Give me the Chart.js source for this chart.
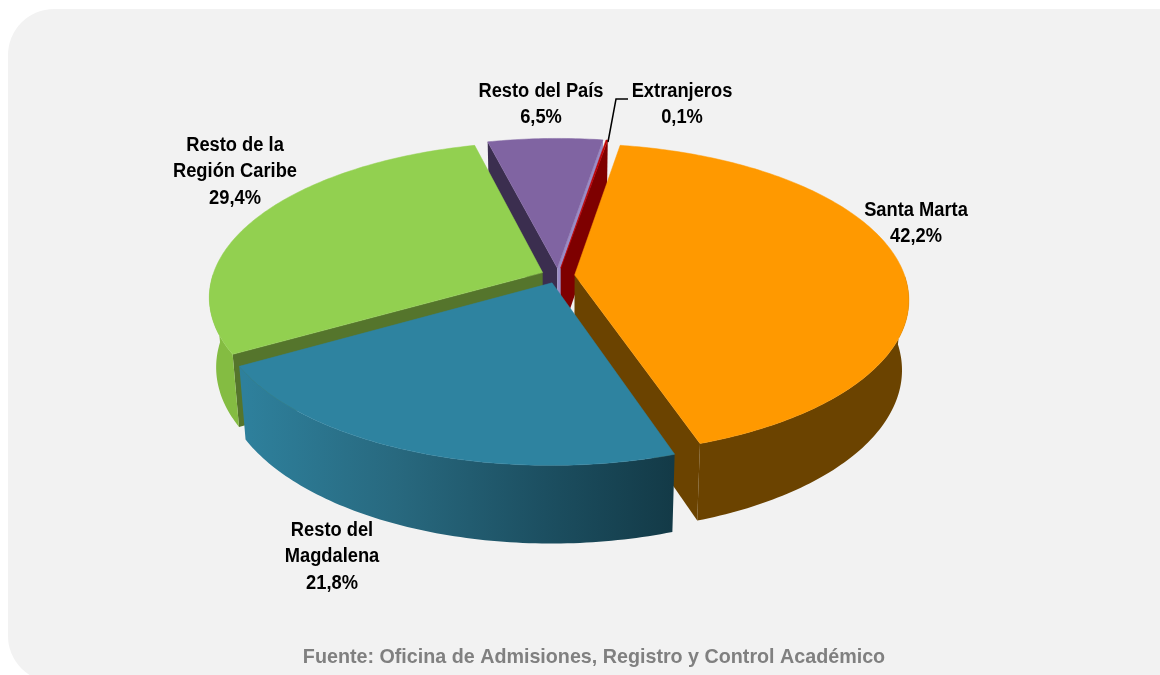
<!DOCTYPE html>
<html lang="es">
<head>
<meta charset="utf-8">
<style>html,body{margin:0;padding:0;background:#fff}canvas{display:block}</style>
<script src="https://cdn.jsdelivr.net/npm/chart.js@4"></script>
</head>
<body>
<canvas id="c" width="1160" height="675"></canvas>
<script>
const categories = ['Santa Marta', 'Resto del Magdalena', 'Resto de la Región Caribe', 'Resto del País', 'Extranjeros'];
const shares = [42.2, 21.8, 29.4, 6.5, 0.1];
const shareLabels = ['42,2%', '21,8%', '29,4%', '6,5%', '0,1%'];
const topColors = ['#FF9900', '#2E83A0', '#92D050', '#8064A2', '#C00000'];
const sourceText = 'Fuente: Oficina de Admisiones, Registro y Control Académico';

// painter's order: far slices first
const paintOrder = [3, 4, 2, 0, 1];
const wallColors = ['#6B4300', null, '#84BC42', '#3B2E4F', '#7E0000'];
const endFaceColors = ['#6B4300', '#2B7A96', '#55752C', '#9A8CC6', '#7E0000'];
const startFaceColors = ['#6B4300', '#2B7A96', '#55752C', '#3B2E4F', '#7E0000'];

// view of the pie
const TILT = 0.46, PERSP = 0.000469, DEPTH = 70, BASE_SCALE = 1.02;
const labelBoxes = [
  {lines: ['Santa Marta', shareLabels[0]], x: 916, y: 210},
  {lines: ['Resto del', 'Magdalena', shareLabels[1]], x: 332, y: 530},
  {lines: ['Resto de la', 'Región Caribe', shareLabels[2]], x: 235, y: 145},
  {lines: ['Resto del País', shareLabels[3]], x: 541, y: 91},
  {lines: ['Extranjeros', shareLabels[4]], x: 682, y: 91}
];

function project(cx, cy, X, Y, base) {
  const w = (1 - PERSP * Y) * (base ? BASE_SCALE : 1);
  return [cx + X / w, cy + (TILT * Y + (base ? DEPTH : 0)) / w];
}
function paintPoly(ctx, pts, fill, edge) {
  ctx.beginPath();
  pts.forEach((p, i) => i ? ctx.lineTo(p[0], p[1]) : ctx.moveTo(p[0], p[1]));
  ctx.closePath();
  ctx.fillStyle = fill;
  ctx.fill();
  if (edge) { ctx.strokeStyle = fill; ctx.lineWidth = edge; ctx.stroke(); }
}
function drawSlice(ctx, el, i) {
  const {x, y, startAngle, endAngle, outerRadius} = el.getProps(['x', 'y', 'startAngle', 'endAngle', 'outerRadius'], true);
  const offset = el.options.offset || 0;
  const mid = (startAngle + endAngle) / 2;
  const ox = Math.cos(mid) * offset, oy = Math.sin(mid) * offset;
  const n = Math.max(2, Math.ceil((endAngle - startAngle) * 60));
  const angles = [];
  for (let k = 0; k <= n; k++) angles.push(startAngle + (endAngle - startAngle) * k / n);
  const at = (t, b) => project(x, y, ox + Math.cos(t) * outerRadius, oy + Math.sin(t) * outerRadius, b);
  const tipTop = project(x, y, ox, oy, false), tipBase = project(x, y, ox, oy, true);
  // only the faces that look at the viewer
  if (Math.cos(startAngle) < 0) {
    paintPoly(ctx, [tipTop, at(startAngle, false), at(startAngle, true), tipBase], startFaceColors[i]);
  }
  const front = angles.filter(t => Math.sin(t) > 0);
  if (front.length > 1) {
    let wall = wallColors[i];
    if (!wall) {
      wall = ctx.createLinearGradient(245, 0, 673, 0);
      wall.addColorStop(0, '#2E809C');
      wall.addColorStop(0.35, '#28697F');
      wall.addColorStop(0.7, '#1C4F61');
      wall.addColorStop(1, '#133A47');
    }
    paintPoly(ctx, front.map(t => at(t, false)).concat(front.slice().reverse().map(t => at(t, true))), wall);
  }
  if (Math.cos(endAngle) > 0) {
    paintPoly(ctx, [tipTop, at(endAngle, false), at(endAngle, true), tipBase], endFaceColors[i]);
  }
  paintPoly(ctx, [tipTop].concat(angles.map(t => at(t, false))), el.options.backgroundColor, 0.5);
}

const scene3d = {
  id: 'scene3d',
  beforeDraw(chart) {
    const ctx = chart.ctx;
    ctx.save();
    ctx.fillStyle = '#F2F2F2';
    ctx.beginPath();
    ctx.roundRect(8, 9, 1200, 673, 46);
    ctx.fill();
    ctx.restore();
  },
  beforeDatasetDraw(chart, args) {
    const ctx = chart.ctx, els = args.meta.data;
    ctx.save();
    paintOrder.forEach(i => drawSlice(ctx, els[i], i));
    ctx.restore();
    return false;
  },
  afterDatasetsDraw(chart) {
    const ctx = chart.ctx;
    ctx.save();
    ctx.textAlign = 'center';
    ctx.textBaseline = 'middle';
    const put = (t, x, y, font, color, sx) => {
      ctx.save();
      ctx.translate(x, y);
      ctx.scale(sx, 1);
      ctx.font = font;
      ctx.fillStyle = color;
      ctx.fillText(t, 0, 0);
      ctx.restore();
    };
    labelBoxes.forEach(b => b.lines.forEach((t, k) => put(t, b.x, b.y + k * 26.5, 'bold 20px "Liberation Sans"', '#000', 0.915)));
    put(sourceText, 594, 657, 'bold 21px "Liberation Sans"', '#808080', 0.938);
    // leader line of the smallest slice
    ctx.strokeStyle = '#000';
    ctx.lineWidth = 1.5;
    ctx.beginPath();
    ctx.moveTo(628, 99); ctx.lineTo(616, 99); ctx.lineTo(608, 142);
    ctx.stroke();
    ctx.restore();
  }
};

new Chart(document.getElementById('c').getContext('2d'), {
  type: 'pie',
  data: {
    labels: categories,
    datasets: [{data: shares, backgroundColor: topColors, borderWidth: 0, offset: 16.7, radius: 330}]
  },
  options: {
    responsive: false,
    animation: false,
    rotation: 9.6,
    layout: {padding: {left: 0, right: 44, top: 0, bottom: 123.8}},
    plugins: {legend: {display: false}, tooltip: {enabled: false}, title: {display: false}}
  },
  plugins: [scene3d]
});
</script>
</body>
</html>
